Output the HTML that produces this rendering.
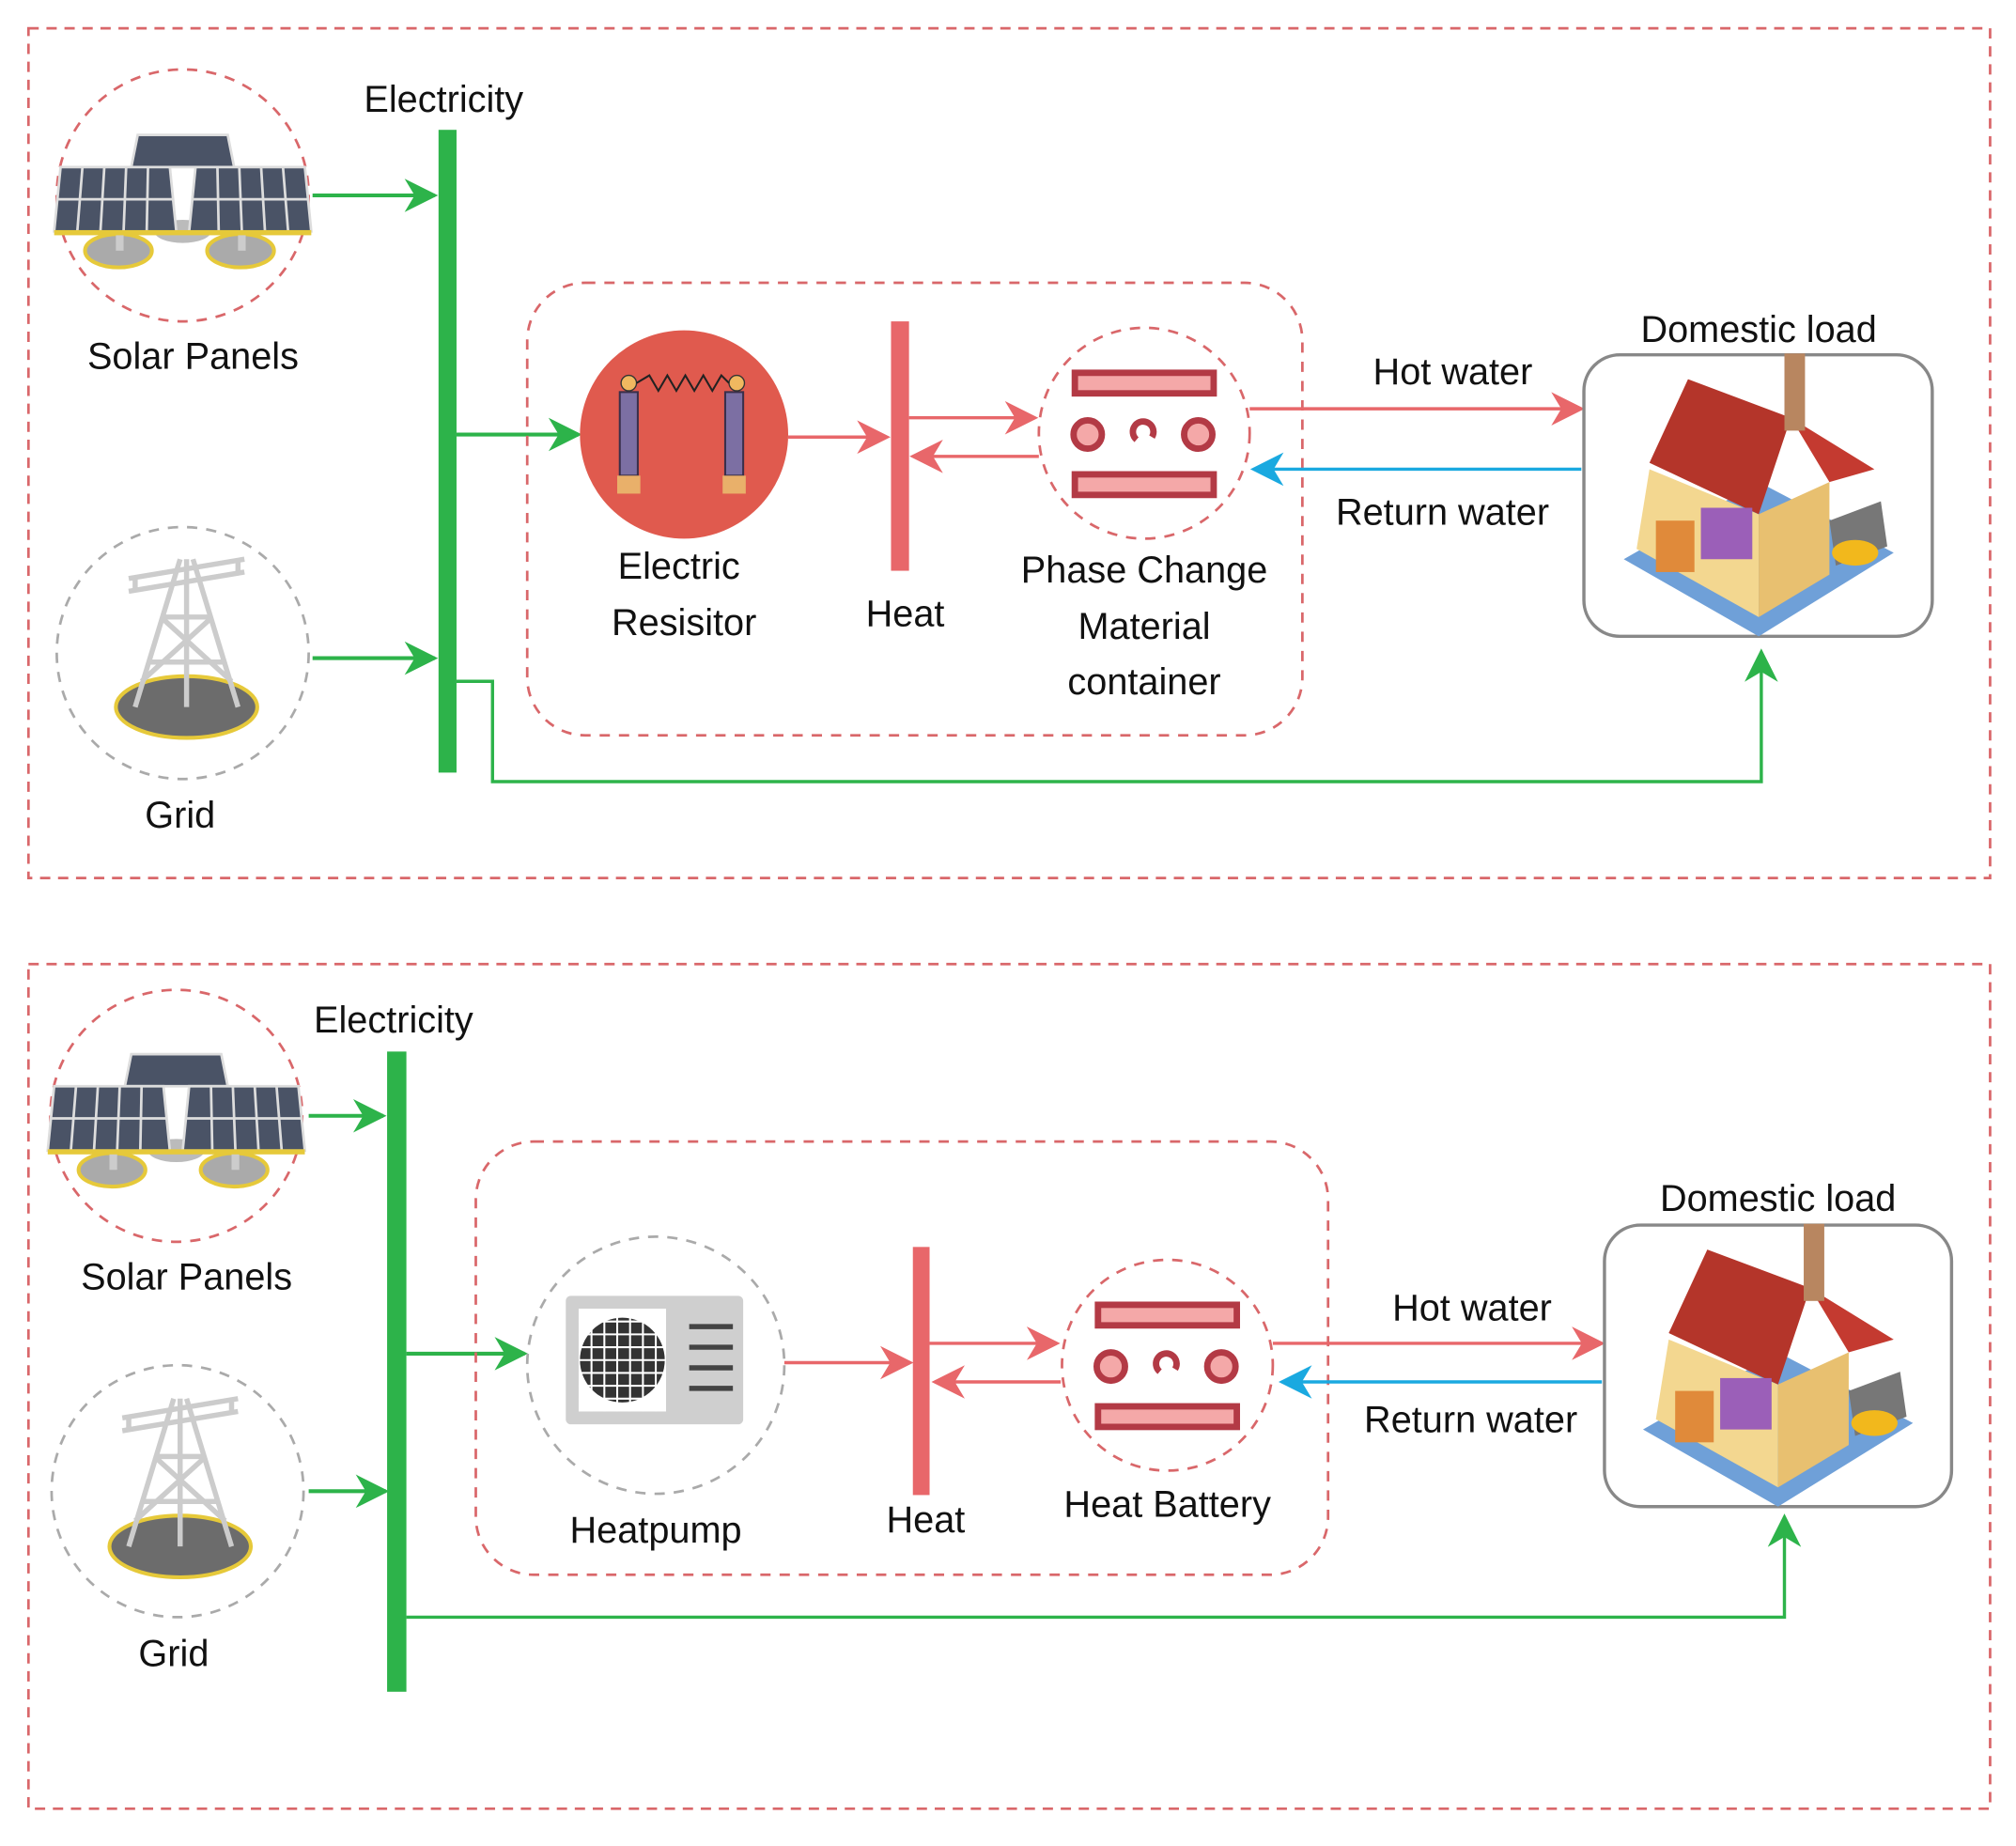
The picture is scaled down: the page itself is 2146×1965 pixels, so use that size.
<!DOCTYPE html>
<html><head><meta charset="utf-8"><style>
html,body{margin:0;padding:0;background:#fff;}
svg{display:block;}
text{font-family:"Liberation Sans",sans-serif;font-size:29px;fill:#111;text-anchor:middle;}
</style></head><body>
<svg width="2146" height="1965" viewBox="0 0 1568 1436" xmlns="http://www.w3.org/2000/svg">
<defs>
<marker id="ag" viewBox="0 0 10 10" refX="9" refY="5" markerWidth="9" markerHeight="9" markerUnits="userSpaceOnUse" orient="auto"><path d="M0,0 L10,5 L0,10 L3,5z" fill="#2db34a"/></marker>
<marker id="agL" viewBox="0 0 10 10" refX="9" refY="5" markerWidth="26" markerHeight="26" markerUnits="userSpaceOnUse" orient="auto"><path d="M0,0 L10,5 L0,10 L3,5z" fill="#2db34a"/></marker>
<marker id="ar" viewBox="0 0 10 10" refX="9" refY="5" markerWidth="26" markerHeight="26" markerUnits="userSpaceOnUse" orient="auto"><path d="M0,0 L10,5 L0,10 L3,5z" fill="#e8676a"/></marker>
<marker id="ab" viewBox="0 0 10 10" refX="9" refY="5" markerWidth="26" markerHeight="26" markerUnits="userSpaceOnUse" orient="auto"><path d="M0,0 L10,5 L0,10 L3,5z" fill="#1aa9e0"/></marker>
<g id="solar">
 <ellipse cx="-50" cy="40" rx="26" ry="13" fill="#aaa" stroke="#e6c93a" stroke-width="3"/>
 <ellipse cx="45" cy="40" rx="26" ry="13" fill="#aaa" stroke="#e6c93a" stroke-width="3"/>
 <ellipse cx="0" cy="25" rx="22" ry="9" fill="#bbb"/>
 <rect x="-52" y="18" width="6" height="22" fill="#ccc"/><rect x="43" y="18" width="6" height="22" fill="#ccc"/>
 <path d="M-35,-50 L35,-50 L40,-25 L-40,-25z" fill="#4a5366" stroke="#ddd" stroke-width="2"/>
 <path d="M-95,-25 L-10,-25 L-5,25 L-100,25z" fill="#4a5366" stroke="#ddd" stroke-width="2"/>
 <path d="M10,-25 L95,-25 L100,25 L5,25z" fill="#4a5366" stroke="#ddd" stroke-width="2"/>
 <path d="M-78,-25 L-82,25 M-61,-25 L-64,25 M-44,-25 L-46,25 M-27,-25 L-28,25 M27,-25 L28,25 M44,-25 L46,25 M61,-25 L64,25 M78,-25 L82,25 M-97,0 L-7,0 M7,0 L97,0" stroke="#ddd" stroke-width="2"/>
 <rect x="-100" y="24" width="200" height="4" fill="#e6c93a"/>
</g>
<g id="tower">
 <ellipse cx="0" cy="45" rx="55" ry="24" fill="#6c6c6c" stroke="#e6c93a" stroke-width="3"/>
 <path d="M-5,-70 L-40,45 M5,-70 L40,45 M0,-70 L0,45 M-30,10 L30,10 M-20,-25 L20,-25 M-35,25 L20,-25 M35,25 L-20,-25 M-45,-55 L45,-70 M-45,-45 L45,-60 M-40,-55 L-40,-45 M40,-70 L40,-60" stroke="#ccc" stroke-width="4" fill="none"/>
</g>
<g id="house">
 <path d="M-105,50 L0,110 L105,45 L0,-10z" fill="#6fa0d8"/>
 <path d="M-95,42 L0,95 L0,15 L-85,-20z" fill="#f3d790"/>
 <path d="M0,95 L55,62 L55,-10 L0,15z" fill="#e8c070"/>
 <path d="M-85,-25 L-55,-90 L25,-60 L0,15z" fill="#b4352a"/>
 <path d="M25,-60 L90,-20 L55,-10z" fill="#c43a30"/>
 <rect x="20" y="-110" width="16" height="60" fill="#b88660"/>
 <rect x="-45" y="10" width="40" height="40" fill="#9b5fb8"/>
 <rect x="-80" y="20" width="30" height="40" fill="#e08a3a"/>
 <path d="M55,20 L95,5 L100,40 L60,55z" fill="#777"/>
 <ellipse cx="75" cy="45" rx="18" ry="10" fill="#f2b81c"/>
</g>
</defs>

<!-- TOP PANEL -->
<rect x="22" y="22" width="1526" height="661" fill="none" stroke="#d9676a" stroke-width="2" stroke-dasharray="8,6"/>
<circle cx="142" cy="152" r="98" fill="none" stroke="#d9676a" stroke-width="2" stroke-dasharray="8,7"/>
<use href="#solar" x="142" y="155"/>
<text x="150" y="287">Solar Panels</text>
<circle cx="142" cy="508" r="98" fill="none" stroke="#aaa" stroke-width="2" stroke-dasharray="8,7"/>
<use href="#tower" x="145" y="505"/>
<text x="140" y="644">Grid</text>
<text x="345" y="87">Electricity</text>
<rect x="341" y="101" width="14" height="500" fill="#2db34a"/>
<line x1="243" y1="152" x2="338" y2="152" stroke="#2db34a" stroke-width="3" marker-end="url(#agL)"/>
<line x1="243" y1="512" x2="338" y2="512" stroke="#2db34a" stroke-width="3" marker-end="url(#agL)"/>
<line x1="355" y1="338" x2="450" y2="338" stroke="#2db34a" stroke-width="3" marker-end="url(#agL)"/>
<polyline points="355,530 383,530 383,608 1370,608 1370,507" fill="none" stroke="#2db34a" stroke-width="2.5" marker-end="url(#agL)"/>
<rect x="410" y="220" width="603" height="352" rx="45" fill="none" stroke="#d9676a" stroke-width="2" stroke-dasharray="8,7"/>
<circle cx="532" cy="338" r="81" fill="#e05a4e"/>
<g fill="#7c6fa3" stroke="#3a2f4a" stroke-width="1.5">
<rect x="482" y="305" width="14" height="65"/><rect x="564" y="305" width="14" height="65"/></g>
<rect x="480" y="370" width="18" height="14" fill="#e9b06a"/><rect x="562" y="370" width="18" height="14" fill="#e9b06a"/>
<circle cx="489" cy="298" r="6" fill="#f0b860" stroke="#333"/><circle cx="573" cy="298" r="6" fill="#f0b860" stroke="#333"/>
<polyline points="495,298 505,292 512,304 519,292 526,304 533,292 540,304 547,292 554,304 561,292 567,298" fill="none" stroke="#222" stroke-width="1.5"/>
<text x="528" y="450">Electric</text>
<text x="532" y="494">Resisitor</text>
<line x1="613" y1="340" x2="690" y2="340" stroke="#e8676a" stroke-width="2.5" marker-end="url(#ar)"/>
<rect x="693" y="250" width="14" height="194" fill="#e8676a"/>
<text x="704" y="487">Heat</text>
<line x1="707" y1="325" x2="805" y2="325" stroke="#e8676a" stroke-width="2.5" marker-end="url(#ar)"/>
<line x1="808" y1="355" x2="710" y2="355" stroke="#e8676a" stroke-width="2.5" marker-end="url(#ar)"/>
<circle cx="890" cy="337" r="82" fill="none" stroke="#d9676a" stroke-width="2" stroke-dasharray="8,7"/>
<g id="pcm">
<rect x="836" y="290" width="108" height="16" fill="#f4a8a8" stroke="#b33a45" stroke-width="5"/>
<rect x="836" y="369" width="108" height="16" fill="#f4a8a8" stroke="#b33a45" stroke-width="5"/>
<circle cx="846" cy="338" r="11" fill="#f4a8a8" stroke="#b33a45" stroke-width="5"/>
<circle cx="932" cy="338" r="11" fill="#f4a8a8" stroke="#b33a45" stroke-width="5"/>
<path d="M884,342 A8,8 0 1 1 896,340" fill="none" stroke="#b33a45" stroke-width="5"/>
</g>
<text x="890" y="453">Phase Change</text>
<text x="890" y="497">Material</text>
<text x="890" y="540">container</text>
<line x1="972" y1="318" x2="1230" y2="318" stroke="#e8676a" stroke-width="2.5" marker-end="url(#ar)"/>
<text x="1130" y="299">Hot water</text>
<line x1="1230" y1="365" x2="975" y2="365" stroke="#1aa9e0" stroke-width="2.5" marker-end="url(#ab)"/>
<text x="1122" y="408">Return water</text>
<rect x="1232" y="276" width="271" height="219" rx="28" fill="none" stroke="#888" stroke-width="2.5"/>
<use href="#house" x="1368" y="385"/>
<text x="1368" y="266">Domestic load</text>

<!-- BOTTOM PANEL -->
<rect x="22" y="750" width="1526" height="657" fill="none" stroke="#d9676a" stroke-width="2" stroke-dasharray="8,6"/>
<circle cx="137" cy="868" r="98" fill="none" stroke="#d9676a" stroke-width="2" stroke-dasharray="8,7"/>
<use href="#solar" x="137" y="870"/>
<text x="145" y="1003">Solar Panels</text>
<circle cx="138" cy="1160" r="98" fill="none" stroke="#aaa" stroke-width="2" stroke-dasharray="8,7"/>
<use href="#tower" x="140" y="1158"/>
<text x="135" y="1296">Grid</text>
<text x="306" y="803">Electricity</text>
<rect x="301" y="818" width="15" height="498" fill="#2db34a"/>
<line x1="240" y1="868" x2="298" y2="868" stroke="#2db34a" stroke-width="3" marker-end="url(#agL)"/>
<line x1="240" y1="1160" x2="300" y2="1160" stroke="#2db34a" stroke-width="3" marker-end="url(#agL)"/>
<line x1="316" y1="1053" x2="408" y2="1053" stroke="#2db34a" stroke-width="3" marker-end="url(#agL)"/>
<polyline points="316,1258 1388,1258 1388,1180" fill="none" stroke="#2db34a" stroke-width="2.5" marker-end="url(#agL)"/>
<rect x="370" y="888" width="663" height="337" rx="45" fill="none" stroke="#d9676a" stroke-width="2" stroke-dasharray="8,7"/>
<circle cx="510" cy="1062" r="100" fill="none" stroke="#aaa" stroke-width="2" stroke-dasharray="8,7"/>
<rect x="440" y="1008" width="138" height="100" rx="4" fill="#cfcfcf"/>
<rect x="450" y="1018" width="68" height="80" fill="#fff"/>
<circle cx="484" cy="1058" r="33" fill="#333"/>
<path d="M450,1028 H518 M450,1038 H518 M450,1048 H518 M450,1058 H518 M450,1068 H518 M450,1078 H518 M450,1088 H518 M460,1018 V1098 M470,1018 V1098 M480,1018 V1098 M490,1018 V1098 M500,1018 V1098 M510,1018 V1098" stroke="#fff" stroke-width="1.5"/>
<path d="M536,1032 H570 M536,1048 H570 M536,1064 H570 M536,1080 H570" stroke="#444" stroke-width="4"/>
<text x="510" y="1200">Heatpump</text>
<line x1="610" y1="1060" x2="708" y2="1060" stroke="#e8676a" stroke-width="2.5" marker-end="url(#ar)"/>
<rect x="710" y="970" width="13" height="193" fill="#e8676a"/>
<text x="720" y="1192">Heat</text>
<line x1="723" y1="1045" x2="822" y2="1045" stroke="#e8676a" stroke-width="2.5" marker-end="url(#ar)"/>
<line x1="825" y1="1075" x2="727" y2="1075" stroke="#e8676a" stroke-width="2.5" marker-end="url(#ar)"/>
<circle cx="908" cy="1062" r="82" fill="none" stroke="#d9676a" stroke-width="2" stroke-dasharray="8,7"/>
<use href="#pcm" x="18" y="725"/>
<text x="908" y="1180">Heat Battery</text>
<line x1="990" y1="1045" x2="1246" y2="1045" stroke="#e8676a" stroke-width="2.5" marker-end="url(#ar)"/>
<text x="1145" y="1027">Hot water</text>
<line x1="1246" y1="1075" x2="997" y2="1075" stroke="#1aa9e0" stroke-width="2.5" marker-end="url(#ab)"/>
<text x="1144" y="1114">Return water</text>
<rect x="1248" y="953" width="270" height="219" rx="28" fill="none" stroke="#888" stroke-width="2.5"/>
<use href="#house" x="1383" y="1062"/>
<text x="1383" y="942">Domestic load</text>
</svg>
</body></html>
